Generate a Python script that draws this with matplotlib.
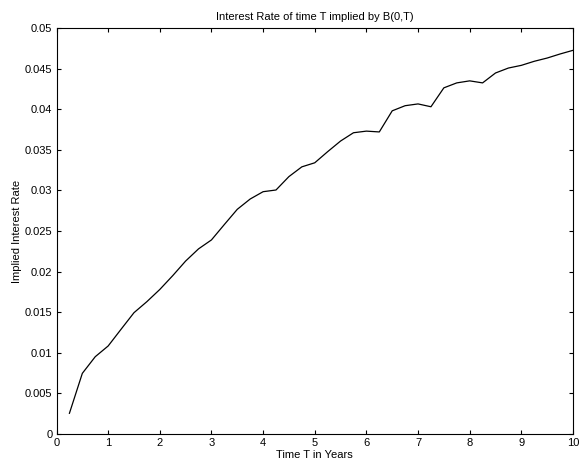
import numpy as np
import matplotlib
matplotlib.use("Agg")
import matplotlib.pyplot as plt
from matplotlib.ticker import FuncFormatter

# maturities (years) and implied rates
T = [0.25, 0.5, 0.75, 1.0, 1.25, 1.5, 1.75, 2.0, 2.25, 2.5,
     2.75, 3.0, 3.25, 3.5, 3.75, 4.0, 4.25, 4.5, 4.75, 5.0,
     5.25, 5.5, 5.75, 6.0, 6.25, 6.5, 6.75, 7.0, 7.25, 7.5,
     7.75, 8.0, 8.25, 8.5, 8.75, 9.0, 9.25, 9.5, 9.75, 10.0]
rate = [0.00255, 0.00747, 0.00952, 0.01084, 0.0129, 0.01494, 0.0163, 0.0178, 0.0195, 0.0213,
        0.0228, 0.0239, 0.0258, 0.02767, 0.02894, 0.02984, 0.03005, 0.0317, 0.0329, 0.0334,
        0.03477, 0.03608, 0.0371, 0.0373, 0.0372, 0.0398, 0.04043, 0.04065, 0.0403, 0.04263,
        0.04324, 0.04349, 0.04324, 0.04446, 0.04507, 0.0454, 0.0459, 0.0463, 0.0468, 0.04725]

plt.rcParams["font.family"] = ["Liberation Sans", "DejaVu Sans"]
plt.rcParams["font.size"] = 8

fig = plt.figure(figsize=(5.79, 4.62), dpi=100)
ax = fig.add_axes([0.0976, 0.0606, 0.8920, 0.8788])
ax.plot(T, rate, color="black", lw=0.9)

ax.set_xlim(0, 10)
ax.set_ylim(0, 0.05)
ax.set_xticks(np.arange(0, 11, 1))
ax.set_yticks(np.arange(0, 0.0501, 0.005))
ax.yaxis.set_major_formatter(FuncFormatter(lambda v, _: f"{v:g}"))
ax.tick_params(direction="in", top=True, right=True, length=3, width=0.8, labelsize=8, pad=3)
for sp in ax.spines.values():
    sp.set_linewidth(0.8)

ax.set_title("Interest Rate of time T implied by B(0,T)", fontsize=8, pad=6)
ax.set_xlabel("Time T in Years", fontsize=8, labelpad=1)
ax.set_ylabel("Implied Interest Rate", fontsize=8, labelpad=2)

fig.savefig("out.png", dpi=100)
